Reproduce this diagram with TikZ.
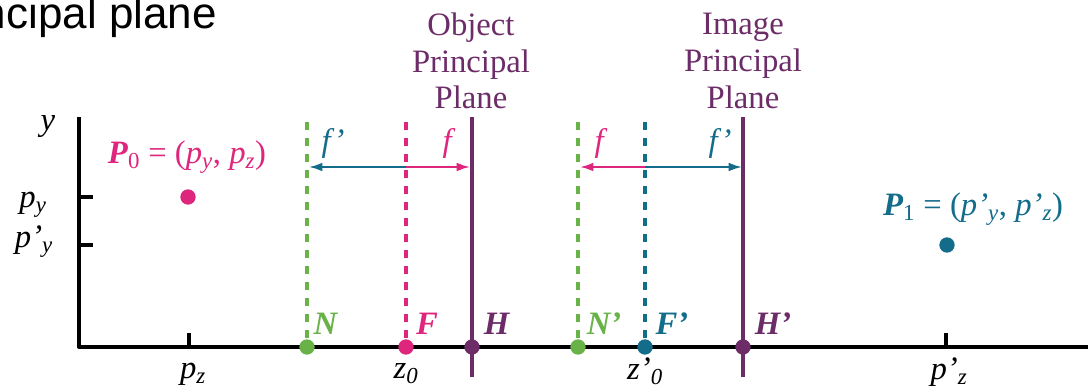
\documentclass[tikz,border=0pt]{standalone}
\usepackage{fontspec}
\setmainfont{Liberation Serif}
\newfontfamily\arialfont{Liberation Sans}
\usetikzlibrary{arrows.meta}
\definecolor{cpink}{RGB}{222,38,125}
\definecolor{cteal}{RGB}{18,108,138}
\definecolor{cgreen}{RGB}{104,178,72}
\definecolor{cpurple}{RGB}{108,44,104}
\begin{document}
\begin{tikzpicture}[x=0.75pt,y=-0.75pt,
 lbl/.style={inner sep=0pt, font=\fontsize{24.5}{27.5}\selectfont},
 dot/.style={circle, fill=#1, inner sep=0pt, minimum size=11.5pt},
 axisline/.style={line width=2.5pt, black, line join=round},
 dashline/.style={line width=2.8pt, dash pattern=on 6pt off 6pt},
 solidline/.style={line width=2.6pt, cpurple},
 farrow/.style={line width=1.5pt, -{Latex[length=10pt,width=6.5pt]}},
]
\useasboundingbox (0,0) rectangle (1088,389);
\clip (0,0) rectangle (1088,389);
% title fragment
\node[anchor=base east, inner sep=0pt, font=\arialfont\fontsize{33}{37}\selectfont] (ttl) at (217,28) {ncipal plane};
% axes
\coordinate (ytop) at (79,117);
\coordinate (O) at (79,347);
\coordinate (xend) at (1090,347);
\draw[axisline] (ytop) -- (O) -- (xend);
% ticks
\coordinate (tpy) at (79,197); \coordinate (tpyE) at (93,197);
\coordinate (tpyp) at (79,245); \coordinate (tpypE) at (93,245);
\coordinate (tpz) at (189,347); \coordinate (tpzE) at (189,333);
\coordinate (tpzp) at (946,347); \coordinate (tpzpE) at (946,333);
\draw[axisline] (tpy) -- (tpyE) (tpyp) -- (tpypE) (tpz) -- (tpzE) (tpzp) -- (tpzpE);
% vertical lines
\coordinate (Ntop) at (307,122); \coordinate (Nb) at (307,347);
\coordinate (Ftop) at (406,122); \coordinate (Fb) at (406,347);
\coordinate (Htop) at (472,117); \coordinate (Hbot) at (472,377); \coordinate (Hb) at (472,347);
\coordinate (Nptop) at (578,122); \coordinate (Npb) at (578,347);
\coordinate (Fptop) at (645,122); \coordinate (Fpb) at (645,347);
\coordinate (Hptop) at (743,117); \coordinate (Hpbot) at (743,377); \coordinate (Hpb) at (743,347);
\draw[dashline, cgreen] (Ntop) -- (Nb);
\draw[dashline, cpink] (Ftop) -- (Fb);
\draw[solidline] (Htop) -- (Hbot);
\draw[dashline, cgreen] (Nptop) -- (Npb);
\draw[dashline, cteal] (Fptop) -- (Fpb);
\draw[solidline] (Hptop) -- (Hpbot);
% arrows
\coordinate (aF) at (406,167); \coordinate (aN) at (309,167); \coordinate (aH) at (470,167);
\coordinate (aFp) at (645,167); \coordinate (aNp) at (580,167); \coordinate (aHp) at (742,167);
\draw[farrow, cteal] (aF) -- (aN);
\draw[farrow, cpink] (aF) -- (aH);
\draw[farrow, cpink] (aFp) -- (aNp);
\draw[farrow, cteal] (aFp) -- (aHp);
% dots
\node[dot=cgreen] (N) at (Nb) {};
\node[dot=cpink] (F) at (Fb) {};
\node[dot=cpurple] (H) at (Hb) {};
\node[dot=cgreen] (Np) at (Npb) {};
\node[dot=cteal] (Fp) at (Fpb) {};
\node[dot=cpurple] (Hp) at (Hpb) {};
\node[dot=cpink] (P0) at (188,197) {};
\node[dot=cteal] (P1) at (947,245) {};
% labels
\node[lbl] (ly) at (48,127) {\textit{y}};
\node[lbl] (lpy) at (33,205) {\textit{p}\textsubscript{\textit{y}}};
\node[lbl] (lpyp) at (34,242) {\textit{p’}\textsubscript{\textit{y}}};
\node[lbl, text=cpink] (lP0) at (187,157) {\textbf{\textit{P}}\textsubscript{0} = (\textit{p}\textsubscript{\textit{y}}, \textit{p}\textsubscript{\textit{z}})};
\node[lbl, text=cteal] (lP1) at (973,209) {\textbf{\textit{P}}\textsubscript{1} = (\textit{p’}\textsubscript{\textit{y}}, \textit{p’}\textsubscript{\textit{z}})};
\node[lbl, text=cgreen] (lN) at (326,324) {\textbf{\textit{N}}};
\node[lbl, text=cpink] (lF) at (427,324) {\textbf{\textit{F}}};
\node[lbl, text=cpurple] (lH) at (497,324) {\textbf{\textit{H}}};
\node[lbl, text=cgreen] (lNp) at (604,324) {\textbf{\textit{N’}}};
\node[lbl, text=cteal] (lFp) at (672,324) {\textbf{\textit{F’}}};
\node[lbl, text=cpurple] (lHp) at (773,324) {\textbf{\textit{H’}}};
\node[lbl, text=cteal] (lf1) at (333,143) {\textit{f’}};
\node[lbl, text=cpink] (lf2) at (449,143) {\textit{f}};
\node[lbl, text=cpink] (lf3) at (601,143) {\textit{f}};
\node[lbl, text=cteal] (lf4) at (720,143) {\textit{f’}};
\node[lbl] (lpz) at (193,374) {\textit{p}\textsubscript{\textit{z}}};
\node[lbl] (lz0) at (406,374) {\textit{z}\textsubscript{\textit{0}}};
\node[lbl] (lz0p) at (645,371) {\textit{z’}\textsubscript{\textit{0}}};
\node[lbl] (lpzp) at (949,372) {\textit{p’}\textsubscript{\textit{z}}};
\node[lbl, align=center, text=cpurple] (obj) at (471,61) {Object\\Principal\\Plane};
\node[lbl, align=center, text=cpurple] (img) at (743,61) {Image\\Principal\\Plane};
\end{tikzpicture}
\end{document}
